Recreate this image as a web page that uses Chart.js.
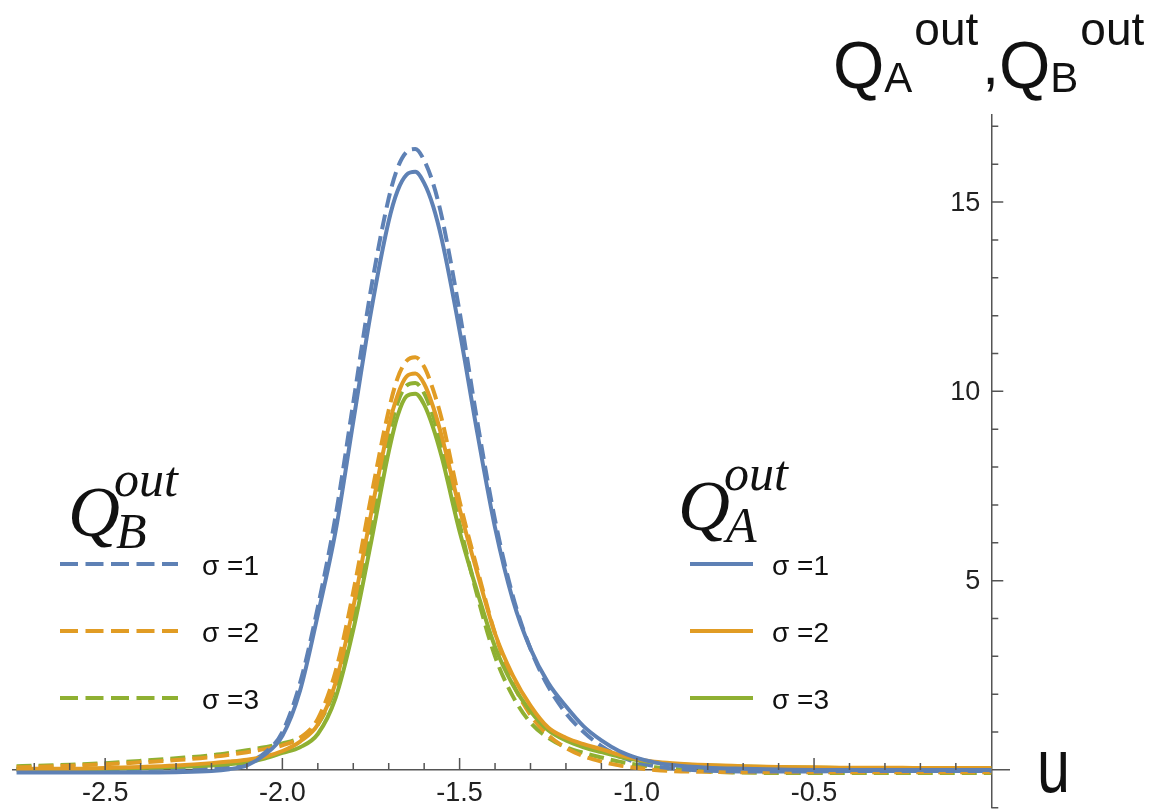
<!DOCTYPE html>
<html>
<head>
<meta charset="utf-8">
<script src="https://cdn.jsdelivr.net/npm/chart.js@4.4.1/dist/chart.umd.min.js"></script>
<style>
  html, body { margin: 0; padding: 0; background: #fff; overflow: hidden; }
  #wrap { width: 1157px; height: 818px; position: relative; }
</style>
</head>
<body>
<div id="wrap"><canvas id="qout"></canvas></div>
<script>
// u values (x axis)
const u = [-2.75, -2.7, -2.6, -2.5, -2.4, -2.3, -2.2, -2.15, -2.1, -2.05,
  -2.0, -1.95, -1.9, -1.85, -1.8, -1.75, -1.7, -1.675, -1.65, -1.625,
  -1.6, -1.575, -1.55, -1.5, -1.45, -1.4, -1.35, -1.3, -1.25, -1.2,
  -1.15, -1.1, -1.05, -1.0, -0.95, -0.9, -0.8, -0.7, -0.6, -0.5,
  -0.4, -0.3, -0.2, -0.1, 0];

// Q_A^out, solid lines
const qA1 = [-0.07, -0.07, -0.07, -0.07, -0.07, -0.06, -0.03, 0.02, 0.12, 0.4,
  0.9, 2.1, 4.1, 6.3, 9.2, 12.1, 14.5, 15.3, 15.72, 15.8,
  15.5, 14.9, 14.0, 11.6, 8.9, 6.4, 4.5, 3.2, 2.3, 1.68,
  1.15, 0.78, 0.5, 0.32, 0.2, 0.13, 0.06, 0.03, 0.01, 0,
  0, 0, 0, 0, 0];
const qA2 = [0.02, 0.03, 0.03, 0.05, 0.08, 0.12, 0.18, 0.22, 0.27, 0.35,
  0.5, 0.75, 1.2, 2.3, 4.3, 6.76, 9.07, 9.9, 10.39, 10.47,
  10.2, 9.6, 8.8, 6.9, 5.2, 3.6, 2.5, 1.7, 1.12, 0.85,
  0.68, 0.55, 0.4, 0.29, 0.22, 0.18, 0.13, 0.1, 0.08, 0.07,
  0.06, 0.06, 0.05, 0.05, 0.05];
const qA3 = [0.02, 0.02, 0.02, 0.03, 0.05, 0.08, 0.12, 0.15, 0.2, 0.3,
  0.45, 0.6, 0.95, 1.9, 3.7, 6.0, 8.4, 9.35, 9.87, 9.94,
  9.65, 9.05, 8.25, 6.3, 4.7, 3.25, 2.25, 1.55, 1.05, 0.78,
  0.6, 0.47, 0.35, 0.26, 0.2, 0.16, 0.12, 0.09, 0.07, 0.06,
  0.05, 0.05, 0.05, 0.05, 0.05];

// Q_B^out, dashed lines
const qB1 = [0.01, 0.01, 0.02, 0.02, 0.03, 0.04, 0.07, 0.1, 0.2, 0.45,
  1.0, 2.3, 4.3, 6.7, 9.7, 12.7, 15.1, 15.9, 16.32, 16.4,
  16.1, 15.5, 14.6, 12.1, 9.2, 6.6, 4.6, 3.2, 2.2, 1.5,
  1.0, 0.63, 0.37, 0.2, 0.1, 0.04, -0.02, -0.04, -0.04, -0.04,
  -0.03, -0.03, -0.03, -0.03, -0.03];
const qB2 = [0.07, 0.08, 0.11, 0.15, 0.2, 0.26, 0.34, 0.4, 0.47, 0.55,
  0.65, 0.85, 1.35, 2.6, 4.7, 7.2, 9.5, 10.35, 10.8, 10.9,
  10.65, 10.05, 9.25, 7.1, 5.3, 3.6, 2.3, 1.45, 0.92, 0.58,
  0.36, 0.22, 0.12, 0.05, 0.0, -0.03, -0.05, -0.06, -0.06, -0.06,
  -0.06, -0.06, -0.06, -0.06, -0.06];
const qB3 = [0.1, 0.11, 0.14, 0.18, 0.24, 0.31, 0.39, 0.45, 0.52, 0.6,
  0.7, 0.85, 1.2, 2.2, 4.0, 6.4, 8.8, 9.7, 10.15, 10.22,
  9.95, 9.35, 8.55, 6.5, 4.6, 3.0, 1.95, 1.25, 0.85, 0.6,
  0.45, 0.33, 0.22, 0.14, 0.07, 0.03, -0.04, -0.07, -0.08, -0.08,
  -0.08, -0.08, -0.08, -0.08, -0.08];

const sigmaLabels = ['σ =1', 'σ =2', 'σ =3'];
const colors = ['#5E81B5', '#E19C24', '#8FB032'];

const pts = arr => arr.map((v, i) => ({x: u[i], y: v}));

const datasets = [];
[qA1, qA2, qA3].forEach((arr, i) => {
  datasets.push({label: 'A ' + sigmaLabels[i], data: pts(arr), borderColor: colors[i],
    borderWidth: 4, pointRadius: 0, cubicInterpolationMode: 'monotone', group: 'A'});
});
[qB1, qB2, qB3].forEach((arr, i) => {
  datasets.push({label: 'B ' + sigmaLabels[i], data: pts(arr), borderColor: colors[i],
    borderWidth: 4, borderDash: [15, 7], pointRadius: 0, cubicInterpolationMode: 'monotone', group: 'B'});
});

const axisColor = '#555';
const isHalf = v => Math.abs(v * 2 - Math.round(v * 2)) < 1e-6;

function txt(ctx, s, x, y, font) {
  ctx.font = font;
  ctx.fillText(s, x, y);
  return ctx.measureText(s).width;
}

const overlay = {
  id: 'overlay',
  afterDraw(chart) {
    const ctx = chart.ctx;
    const xs = chart.scales.x, ys = chart.scales.y;
    const x0 = xs.getPixelForValue(0), y0 = ys.getPixelForValue(0);
    const sans = '"Liberation Sans", Arial, sans-serif';
    ctx.save();
    // tick marks and y tick labels
    ctx.strokeStyle = axisColor;
    ctx.lineWidth = 1.5;
    ctx.beginPath();
    xs.ticks.forEach(t => {
      if (Math.abs(t.value) < 1e-6) return;
      const px = xs.getPixelForValue(t.value);
      ctx.moveTo(px, y0);
      ctx.lineTo(px, y0 - (isHalf(t.value) ? 12 : 7));
    });
    ctx.fillStyle = '#222';
    ctx.textAlign = 'right';
    ctx.textBaseline = 'middle';
    ctx.font = '27px ' + sans;
    ys.ticks.forEach(t => {
      if (Math.abs(t.value) < 1e-6) return;
      const py = ys.getPixelForValue(t.value);
      const major = t.value % 5 === 0;
      ctx.moveTo(x0, py);
      ctx.lineTo(x0 + (major ? 12 : 7), py);
      if (major && t.value > 0) ctx.fillText(String(t.value), x0 - 11, py + 1);
    });
    ctx.stroke();

    ctx.fillStyle = '#111';
    ctx.textAlign = 'left';
    ctx.textBaseline = 'alphabetic';
    // axis title top right
    let x = 833;
    x += txt(ctx, 'Q', x, 88, '66px ' + sans);
    x += txt(ctx, 'A', x, 92, '42px ' + sans);
    x += txt(ctx, 'out', x + 2, 45, '46px ' + sans) + 4;
    x += txt(ctx, ',', x + 2, 84, '60px ' + sans) + 2;
    x += txt(ctx, 'Q', x, 88, '66px ' + sans);
    x += txt(ctx, 'B', x, 92, '42px ' + sans);
    txt(ctx, 'out', x + 2, 45, '46px ' + sans);
    // u label
    ctx.save();
    ctx.translate(1037, 792);
    ctx.scale(0.78, 1);
    txt(ctx, 'u', 0, 0, '76px ' + sans);
    ctx.restore();

    // legends
    const serif = '"Liberation Serif", "DejaVu Serif", serif';
    const legends = [
      {group: 'B', name: 'B', qx: 68, qy: 536, lx1: 60, lx2: 178, tx: 202},
      {group: 'A', name: 'A', qx: 678, qy: 530, lx1: 690, lx2: 753, tx: 772}
    ];
    const rows = [564, 631, 698];
    legends.forEach(lg => {
      ctx.fillStyle = '#111';
      const qw = txt(ctx, 'Q', lg.qx, lg.qy, 'italic 72px ' + serif);
      txt(ctx, 'out', lg.qx + qw - 6, lg.qy - 40, 'italic 50px ' + serif);
      txt(ctx, lg.name, lg.qx + qw - 4, lg.qy + 12, 'italic 50px ' + serif);
      const ds = chart.data.datasets.filter(d => d.group === lg.group);
      ds.forEach((d, i) => {
        ctx.strokeStyle = d.borderColor;
        ctx.lineWidth = 4;
        ctx.setLineDash(d.borderDash ? [18, 7.5] : []);
        ctx.beginPath();
        ctx.moveTo(lg.lx1, rows[i]);
        ctx.lineTo(lg.lx2, rows[i]);
        ctx.stroke();
        ctx.setLineDash([]);
        ctx.fillStyle = '#111';
        txt(ctx, sigmaLabels[i], lg.tx, rows[i] + 11, '28px ' + sans);
      });
    });
    ctx.restore();
  }
};

new Chart(document.getElementById('qout'), {
  type: 'line',
  data: {datasets: datasets},
  options: {
    responsive: true,
    maintainAspectRatio: false,
    animation: false,
    layout: {padding: {left: 13, right: 148, top: 115, bottom: 5}},
    plugins: {legend: {display: false}, tooltip: {enabled: false}},
    scales: {
      x: {
        type: 'linear',
        min: -2.76,
        max: 0.05,
        position: {y: 0},
        grid: {display: true, drawOnChartArea: false, drawTicks: false},
        border: {display: true, color: axisColor, width: 1.5},
        ticks: {
          stepSize: 0.1,
          autoSkip: false,
          includeBounds: false,
          maxTicksLimit: 100,
          maxRotation: 0,
          minRotation: 0,
          padding: 7,
          color: '#222',
          font: {family: '"Liberation Sans", Arial, sans-serif', size: 27},
          callback: v => (isHalf(v) && Math.abs(v) > 1e-6) ? v.toFixed(1) : ''
        }
      },
      y: {
        type: 'linear',
        min: -1,
        max: 17.3,
        position: {x: 0},
        grid: {display: true, drawOnChartArea: false, drawTicks: false},
        border: {display: true, color: axisColor, width: 1.5},
        ticks: {
          stepSize: 1,
          autoSkip: false,
          includeBounds: false,
          maxTicksLimit: 100,
          callback: () => ''
        }
      }
    }
  },
  plugins: [overlay]
});
</script>
</body>
</html>
